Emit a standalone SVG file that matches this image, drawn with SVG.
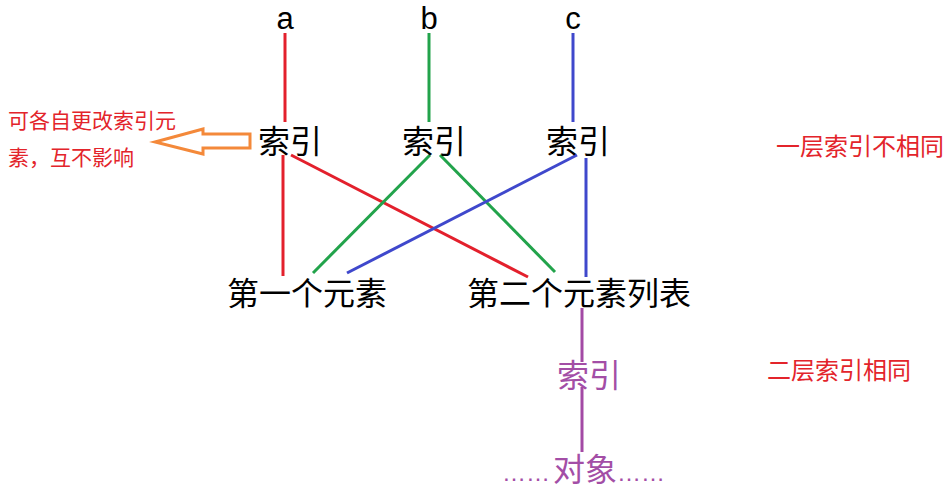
<svg xmlns="http://www.w3.org/2000/svg" width="952" height="497" viewBox="0 0 952 497">
<style>
text{font-family:"Noto Sans CJK SC","Microsoft YaHei",sans-serif;fill:#000}
.big{font-size:32px}
.let{font-family:"Liberation Sans",Arial,sans-serif;font-size:31px;text-anchor:middle}
.note{font-size:24px;fill:#e3242b}
.side{font-size:21px;fill:#e3242b}
.pur{fill:#a34ea6}
.dots{font-family:"Liberation Sans",Arial,sans-serif;font-size:24px}
line{stroke-width:3;fill:none}
.r{stroke:#e3202c}
.g{stroke:#22a34b}
.b{stroke:#3f48cc}
.p{stroke:#a34aa5}
</style>
<rect width="952" height="497" fill="#fff"/>
<g id="connectors">
<line class="r" x1="285" y1="33" x2="285" y2="122"/>
<line class="g" x1="429" y1="33" x2="429" y2="122"/>
<line class="b" x1="573" y1="33" x2="573" y2="122"/>
<line class="r" x1="283" y1="155" x2="283" y2="276"/>
<line class="r" x1="291" y1="155" x2="528" y2="277"/>
<line class="g" x1="430" y1="155" x2="313" y2="273"/>
<line class="g" x1="440" y1="155" x2="555" y2="272"/>
<line class="b" x1="577" y1="155" x2="347" y2="273"/>
<line class="b" x1="586" y1="158" x2="586" y2="277"/>
<line class="p" x1="582" y1="308" x2="582" y2="362"/>
<line class="p" x1="582" y1="387" x2="582" y2="452"/>
</g>
<g id="a"><text class="let" x="285" y="29">a</text></g>
<g id="b"><text class="let" x="429" y="29">b</text></g>
<g id="c"><text class="let" x="573" y="29">c</text></g>
<g id="idx1"><text class="big" x="258" y="153">索引</text></g>
<g id="idx2"><text class="big" x="402" y="153">索引</text></g>
<g id="idx3"><text class="big" x="546" y="153">索引</text></g>
<g id="elem1"><text class="big" x="227" y="305">第一个元素</text></g>
<g id="elem2"><text class="big" x="467" y="305">第二个元素列表</text></g>
<g id="idx4"><text class="big pur" x="557" y="387">索引</text></g>
<g id="obj"><text class="big pur" y="481"><tspan class="dots pur" x="502">……</tspan><tspan x="553">对象</tspan><tspan class="dots pur" x="617">……</tspan></text></g>
<g id="note1"><text class="note" x="776" y="155">一层索引不相同</text></g>
<g id="note2"><text class="note" x="767" y="379">二层索引相同</text></g>
<g id="side">
<text class="side" x="8" y="128">可各自更改索引元</text>
<text class="side" x="8" y="165">素，互不影响</text>
<polygon points="155,142 203,129 203,134 250,134 250,148 203,148 203,154" fill="none" stroke="#f4893a" stroke-width="3" stroke-linejoin="miter"/>
</g>
</svg>
